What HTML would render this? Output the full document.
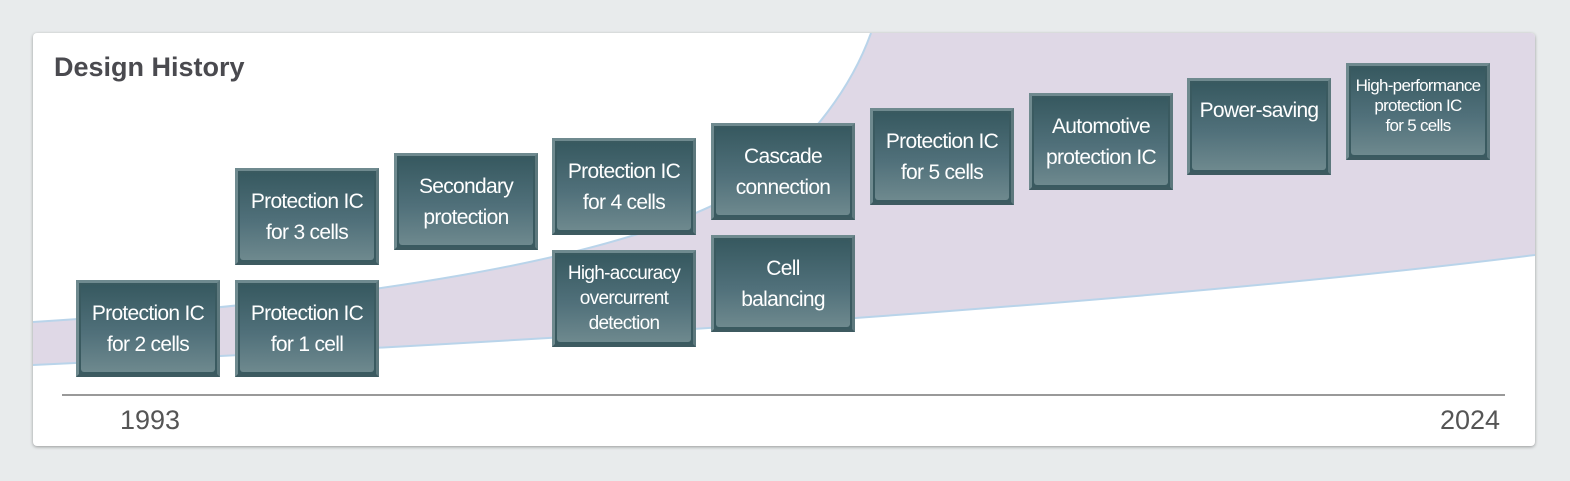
<!DOCTYPE html>
<html><head><style>
body{margin:0;width:1570px;height:481px;background:#e8ebec;position:relative;overflow:hidden;font-family:"Liberation Sans",sans-serif}
.card{position:absolute;left:33px;top:33px;width:1502px;height:413px;background:#fff;border-radius:4px;box-shadow:0 1px 3px rgba(0,0,0,.35);overflow:hidden}
h1{position:absolute;left:54px;top:52px;margin:0;font-size:27px;font-weight:bold;color:#4a4a4f}
.b{position:absolute;width:144px;height:97px;box-sizing:border-box;border:3px solid #6f8a8f;background:#3a5a60;border-bottom-color:#3d5a60;border-right-color:#5d787d}
.b div{position:absolute;left:2px;top:2px;right:2px;bottom:2px;border-radius:3px;background:linear-gradient(#375960,#50707a 55%,#6e898e);display:flex;align-items:center;justify-content:center;text-align:center;color:#fff;font-size:21px;line-height:31px;letter-spacing:-0.7px}
.yr{position:absolute;top:405px;font-size:27px;color:#555}
</style></head><body>
<div class="card">
<svg width="1502" height="413" style="position:absolute;left:0;top:0">
<path d="M0,289 C300,270 600,230 720,150 C780,110 820,50 838,0 L1502,0 L1502,222 C1200,260 700,300 0,332 Z" fill="#dfd8e6"/>
<path d="M0,289 C300,270 600,230 720,150 C780,110 820,50 838,0" fill="none" stroke="#b9d4ea" stroke-width="2"/>
<path d="M1502,222 C1200,260 700,300 0,332" fill="none" stroke="#b9d4ea" stroke-width="2"/>
<line x1="29" y1="362" x2="1472" y2="362" stroke="#333" stroke-width="1"/>
</svg>
</div>
<h1>Design History</h1>
<div class="b" style="left:76px;top:280px"><div>Protection IC<br>for 2 cells</div></div>
<div class="b" style="left:235px;top:280px"><div>Protection IC<br>for 1 cell</div></div>
<div class="b" style="left:235px;top:168px"><div>Protection IC<br>for 3 cells</div></div>
<div class="b" style="left:394px;top:153px"><div>Secondary<br>protection</div></div>
<div class="b" style="left:552px;top:138px"><div>Protection IC<br>for 4 cells</div></div>
<div class="b" style="left:552px;top:250px"><div style="font-size:19px;line-height:25px">High-accuracy<br>overcurrent<br>detection</div></div>
<div class="b" style="left:711px;top:123px"><div>Cascade<br>connection</div></div>
<div class="b" style="left:711px;top:235px"><div>Cell<br>balancing</div></div>
<div class="b" style="left:870px;top:108px"><div>Protection IC<br>for 5 cells</div></div>
<div class="b" style="left:1029px;top:93px"><div>Automotive<br>protection IC</div></div>
<div class="b" style="left:1187px;top:78px"><div style="align-items:flex-start;padding-top:12px">Power-saving</div></div>
<div class="b" style="left:1346px;top:63px"><div style="font-size:17px;line-height:20px;align-items:flex-start;padding-top:8px">High-performance<br>protection IC<br>for 5 cells</div></div>
<div class="yr" style="left:120px">1993</div>
<div class="yr" style="left:1440px">2024</div>
</body></html>
